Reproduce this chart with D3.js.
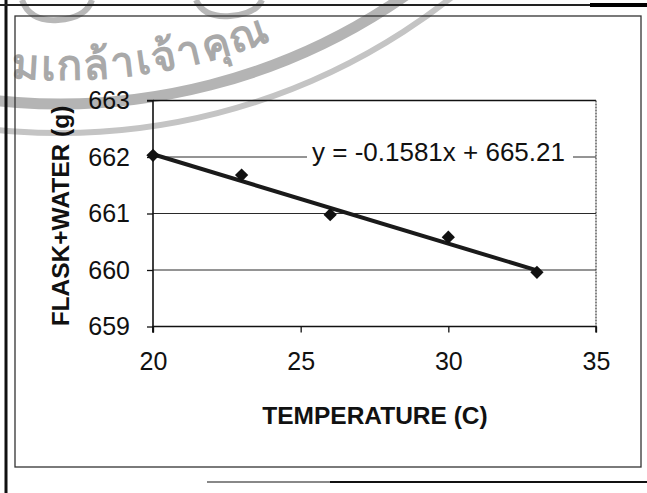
<!DOCTYPE html>
<html>
<head>
<meta charset="utf-8">
<script src="https://cdn.jsdelivr.net/npm/d3@7"></script>
<style>
  html, body { margin: 0; padding: 0; background: #fff; }
  svg { display: block; }
  text { font-family: "Liberation Sans", Arial, sans-serif; }
</style>
</head>
<body>
<svg id="chart" width="647" height="493"></svg>
<script>
// Measurements: flask + water mass against temperature
const temperatures = [20, 23, 26, 30, 33];
const masses = [662.03, 661.68, 660.98, 660.58, 659.96];

// Linear fit shown on the chart
const fitSlope = [-0.1581];
const fitIntercept = [665.21];

// Axis ticks
const xTicks = [20, 25, 30, 35];
const yTicks = [659, 660, 661, 662, 663];
const gridValues = [660, 661, 662];

const xTitle = "TEMPERATURE (C)";
const yTitle = "FLASK+WATER (g)";
const stampText = "มเกล้าเจ้าคุณ";

const svg = d3.select("#chart");
const W = 647, H = 493;

const plot = { left: 153, right: 596, top: 100.5, bottom: 326.5 };

const x = d3.scaleLinear().domain([20, 35]).range([plot.left, plot.right]);
const y = d3.scaleLinear().domain([659, 663]).range([plot.bottom, plot.top]);

// ---- rubber stamp behind the chart ----
const stamp = svg.append("g").attr("class", "stamp");
const sc = { x: 60, y: -500 };
const bands = [
  { r: 604, w: 11, c: "#b4b4b4" },
  { r: 633, w: 6, c: "#c4c4c4" }
];
bands.forEach(b => {
  const p = d3.path();
  p.arc(sc.x, sc.y, b.r, Math.PI * 0.62, Math.PI * 0.22, true);
  stamp.append("path").attr("d", p.toString())
    .attr("fill", "none").attr("stroke", b.c).attr("stroke-width", b.w);
});
const tp = d3.path();
tp.arc(sc.x, sc.y, 580, Math.PI * 0.545, Math.PI * 0.25, true);
stamp.append("path").attr("id", "stampPath").attr("d", tp.toString()).attr("fill", "none");
stamp.append("text")
  .attr("font-size", 42)
  .attr("font-weight", "bold")
  .attr("fill", "#a9a9a9")
  .attr("letter-spacing", 2)
  .append("textPath")
  .attr("href", "#stampPath")
  .attr("startOffset", 33)
  .text(stampText);
// partial letters of the outer ring at the top edge
stamp.append("path").attr("d", "M22,0 Q30,22 58,20 Q86,18 92,0")
  .attr("fill", "none").attr("stroke", "#b8b8b8").attr("stroke-width", 6);
stamp.append("path").attr("d", "M196,0 Q204,18 230,16 Q256,14 262,0")
  .attr("fill", "none").attr("stroke", "#b8b8b8").attr("stroke-width", 6);

// ---- page frame lines ----
const frame = svg.append("g").attr("class", "frame");
frame.append("line").attr("x1", 6).attr("x2", 6).attr("y1", 0).attr("y2", H)
  .attr("stroke", "#111").attr("stroke-width", 3);
frame.append("line").attr("x1", 0).attr("x2", W).attr("y1", 5).attr("y2", 5)
  .attr("stroke", "#222").attr("stroke-width", 2);
frame.append("line").attr("x1", 590).attr("x2", W).attr("y1", 5).attr("y2", 5)
  .attr("stroke", "#000").attr("stroke-width", 4);
frame.append("line").attr("x1", 207).attr("x2", 330).attr("y1", 482).attr("y2", 482)
  .attr("stroke", "#888").attr("stroke-width", 2);
frame.append("line").attr("x1", 330).attr("x2", W).attr("y1", 482).attr("y2", 482)
  .attr("stroke", "#111").attr("stroke-width", 2);

// chart area border
svg.append("rect")
  .attr("x", 15).attr("y", 16).attr("width", 626).attr("height", 451)
  .attr("fill", "none").attr("stroke", "#333").attr("stroke-width", 1.3);

// ---- plot area ----
const g = svg.append("g");

// horizontal gridlines
g.selectAll("line.grid").data(gridValues).join("line")
  .attr("class", "grid")
  .attr("x1", plot.left).attr("x2", plot.right)
  .attr("y1", d => y(d)).attr("y2", d => y(d))
  .attr("stroke", "#2a2a2a").attr("stroke-width", 1);

// plot border: top and right
g.append("line").attr("x1", plot.left).attr("x2", plot.right)
  .attr("y1", plot.top).attr("y2", plot.top)
  .attr("stroke", "#111").attr("stroke-width", 1.3);
g.append("line").attr("x1", plot.right).attr("x2", plot.right)
  .attr("y1", plot.top).attr("y2", plot.bottom)
  .attr("stroke", "#444").attr("stroke-width", 1.3).attr("stroke-dasharray", "2,1");

// axes
const xAxis = d3.axisBottom(x).tickValues(xTicks).tickFormat(d3.format("d"))
  .tickSize(6).tickPadding(20);
const yAxis = d3.axisLeft(y).tickValues(yTicks).tickFormat(d3.format("d"))
  .tickSize(6).tickPadding(17);

const gx = g.append("g").attr("transform", `translate(0,${plot.bottom})`).call(xAxis);
const gy = g.append("g").attr("transform", `translate(${plot.left},0)`).call(yAxis);

[gx, gy].forEach(a => {
  a.select(".domain").attr("stroke", "#111").attr("stroke-width", 1.6);
  a.selectAll(".tick line").attr("stroke", "#111").attr("stroke-width", 1.3);
  a.selectAll(".tick text")
    .attr("font-size", 25)
    .attr("font-family", "'Liberation Sans', Arial, sans-serif")
    .attr("fill", "#111");
});
gx.select(".domain").attr("d", `M${plot.left},6V0H${plot.right}V6`);
gy.select(".domain").attr("d", `M-6,${plot.top}H0V${plot.bottom + 6}`);
gx.selectAll(".tick text").attr("dy", "0.71em");

// trendline equation label with its white box
const eqText = `y = ${fitSlope[0]}x + ${fitIntercept[0]}`;
g.append("rect").attr("x", 307).attr("y", 139).attr("width", 266).attr("height", 28)
  .attr("fill", "#fff");
g.append("text")
  .attr("x", 312).attr("y", 161)
  .attr("font-size", 26)
  .attr("fill", "#111")
  .text(eqText);

// linear trendline across the data range
const xr = d3.extent(temperatures);
const trend = xr.map(t => [t, fitIntercept[0] + fitSlope[0] * t]);
g.append("path")
  .attr("d", d3.line().x(d => x(d[0])).y(d => y(d[1]))(trend))
  .attr("fill", "none").attr("stroke", "#1a1a1a").attr("stroke-width", 4);

// data markers (diamonds)
const pts = temperatures.map((t, i) => ({ t, m: masses[i] }));
g.selectAll("path.pt").data(pts).join("path")
  .attr("class", "pt")
  .attr("d", d3.symbol().type(d3.symbolSquare).size(88))
  .attr("transform", d => `translate(${x(d.t)},${y(d.m)}) rotate(45)`)
  .attr("fill", "#111");

// axis titles
svg.append("text")
  .attr("x", 375).attr("y", 424)
  .attr("text-anchor", "middle")
  .attr("font-size", 24.5).attr("font-weight", "bold")
  .attr("fill", "#111")
  .text(xTitle);

svg.append("text")
  .attr("transform", "translate(69,216) rotate(-90)")
  .attr("text-anchor", "middle")
  .attr("font-size", 24.5).attr("font-weight", "bold")
  .attr("fill", "#111")
  .text(yTitle);
</script>
</body>
</html>
